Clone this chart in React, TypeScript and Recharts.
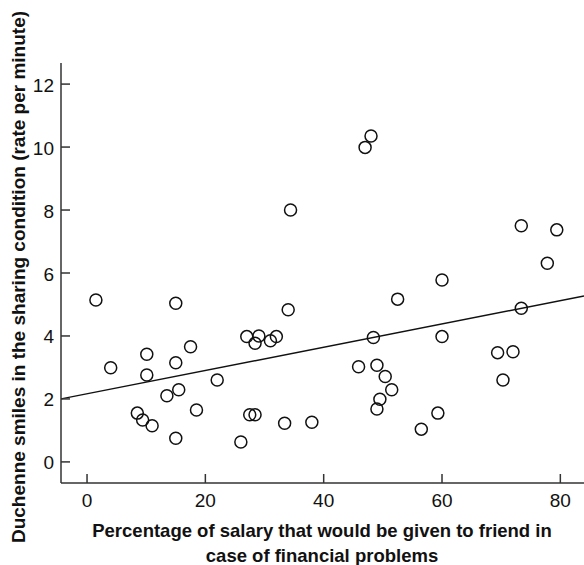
import React from "react";
import { Scatter, ScatterChart, XAxis, YAxis } from "recharts";

// percentage of salary given to friend
const salaryPct = [
  1.5, 4.0, 10.1, 10.1, 8.5, 9.4, 11.0, 13.5, 15.0, 15.0, 15.5, 15.0, 17.5, 18.5,
  22.0, 26.0, 27.0, 27.5, 28.4, 28.4, 29.05, 31.0, 32.0, 33.4, 34.0, 34.4, 38.0,
  45.9, 47.0, 48.0, 48.4, 49.0, 49.0, 49.5, 50.4, 51.5, 52.5, 56.5, 59.3, 60.0,
  60.0, 69.4, 70.3, 72.0, 73.4, 73.4, 77.8, 79.4,
];

// duchenne smiles, rate per minute
const smileRate = [
  5.14, 2.99, 3.42, 2.76, 1.55, 1.33, 1.15, 2.1, 5.04, 3.15, 2.29, 0.75, 3.66, 1.65,
  2.6, 0.63, 3.98, 1.5, 1.5, 3.77, 4.0, 3.85, 3.98, 1.23, 4.83, 8.0, 1.26,
  3.02, 9.99, 10.35, 3.95, 3.07, 1.68, 1.99, 2.71, 2.29, 5.17, 1.04, 1.55, 5.78,
  3.98, 3.47, 2.6, 3.5, 7.5, 4.88, 6.31, 7.37,
];

// fitted line, read at the plot edges
const fitX = [-4.4, 84];
const fitY = [2.0, 5.27];

const xTicks = [0, 20, 40, 60, 80];
const yTicks = [0, 2, 4, 6, 8, 10, 12];

const points = salaryPct.map((x, i) => ({ x, y: smileRate[i] }));
const fitLine = fitX.map((x, i) => ({ x, y: fitY[i] }));

const FONT = '"Liberation Sans", Arial, Helvetica, sans-serif';
const AXIS = "#333";

const Ring = (props: any) => (
  <circle
    cx={props.cx}
    cy={props.cy}
    r={6}
    fill="none"
    stroke="#111"
    strokeWidth={1.5}
  />
);

const Nothing = () => <g />;

const XTick = ({ x, y, payload }: any) => (
  <g>
    <line x1={x} y1={y} x2={x} y2={y - 9} stroke={AXIS} strokeWidth={1.5} />
    <text
      x={x}
      y={y + 17}
      textAnchor="middle"
      dominantBaseline="central"
      fontSize={19}
      fontFamily={FONT}
      fill="#111"
    >
      {payload.value}
    </text>
  </g>
);

const YTick = ({ x, y, payload }: any) => (
  <g>
    <line x1={x} y1={y} x2={x + 9} y2={y} stroke={AXIS} strokeWidth={1.5} />
    <text
      x={x - 7}
      y={y + 1}
      textAnchor="end"
      dominantBaseline="central"
      fontSize={19}
      fontFamily={FONT}
      fill="#111"
    >
      {payload.value}
    </text>
  </g>
);

export default function App() {
  return (
    <div style={{ position: "absolute", left: 0, top: 0 }}>
      <ScatterChart
        width={584}
        height={565}
        margin={{ top: 63, right: 0, bottom: 0, left: 0 }}
      >
        <XAxis
          type="number"
          dataKey="x"
          domain={[-4.4, 84]}
          ticks={xTicks}
          allowDataOverflow
          height={82}
          tickSize={0}
          tickMargin={0}
          tickLine={false}
          tick={<XTick />}
          axisLine={{ stroke: AXIS, strokeWidth: 1.5 }}
        />
        <XAxis
          xAxisId="top"
          orientation="top"
          type="number"
          dataKey="x"
          domain={[-4.4, 84]}
          height={0}
          tick={false}
          tickLine={false}
          axisLine={{ stroke: AXIS, strokeWidth: 1.5 }}
        />
        <YAxis
          type="number"
          dataKey="y"
          domain={[-0.67, 12.67]}
          ticks={yTicks}
          allowDataOverflow
          width={61}
          tickSize={0}
          tickMargin={0}
          tickLine={false}
          tick={<YTick />}
          axisLine={{ stroke: AXIS, strokeWidth: 1.5 }}
        />
        <Scatter
          data={fitLine}
          line={{ stroke: "#111", strokeWidth: 1.4 }}
          shape={<Nothing />}
          isAnimationActive={false}
        />
        <Scatter data={points} shape={<Ring />} isAnimationActive={false} />
        <text
          x={18}
          y={277}
          transform="rotate(-90 18 277)"
          textAnchor="middle"
          dominantBaseline="central"
          fontSize={19}
          fontWeight="bold"
          fontFamily={FONT}
          fill="#111"
        >
          Duchenne smiles in the sharing condition (rate per minute)
        </text>
        <text
          x={322}
          y={530}
          textAnchor="middle"
          dominantBaseline="central"
          fontSize={18.5}
          fontWeight="bold"
          fontFamily={FONT}
          fill="#111"
        >
          Percentage of salary that would be given to friend in
          <tspan x={322} dy={25}>
            case of financial problems
          </tspan>
        </text>
      </ScatterChart>
    </div>
  );
}
